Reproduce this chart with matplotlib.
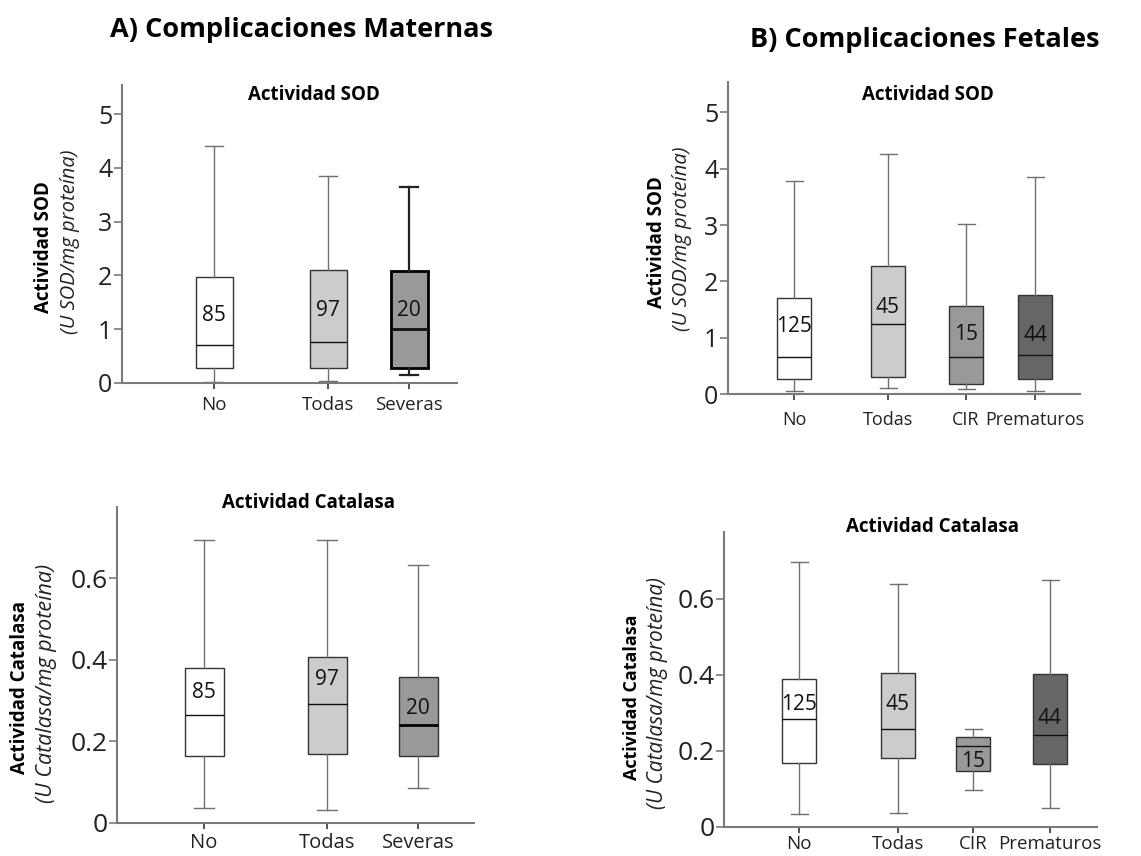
"""Box plots of SOD and catalase activity by maternal / fetal complications."""

import matplotlib

matplotlib.use("Agg")

import matplotlib.pyplot as plt

plt.rcParams["font.family"] = ["Open Sans", "DejaVu Sans"]

# ---- data ----
cats_mat = ["No", "Todas", "Severas"]
cats_fet = ["No", "Todas", "CIR", "Prematuros"]
n_mat = [85, 97, 20]
n_fet = [125, 45, 15, 44]

# SOD, maternal complications
sod_mat_lo = [0.02, 0.03, 0.15]
sod_mat_q1 = [0.28, 0.28, 0.27]
sod_mat_med = [0.71, 0.77, 1.00]
sod_mat_q3 = [1.97, 2.11, 2.08]
sod_mat_hi = [4.41, 3.85, 3.64]

# SOD, fetal complications
sod_fet_lo = [0.05, 0.10, 0.08, 0.05]
sod_fet_q1 = [0.27, 0.30, 0.18, 0.27]
sod_fet_med = [0.66, 1.24, 0.66, 0.69]
sod_fet_q3 = [1.70, 2.28, 1.57, 1.76]
sod_fet_hi = [3.79, 4.26, 3.01, 3.86]

# Catalase, maternal complications
cat_mat_lo = [0.037, 0.032, 0.086]
cat_mat_q1 = [0.165, 0.169, 0.165]
cat_mat_med = [0.265, 0.291, 0.240]
cat_mat_q3 = [0.379, 0.407, 0.357]
cat_mat_hi = [0.695, 0.695, 0.632]

# Catalase, fetal complications
cat_fet_lo = [0.033, 0.037, 0.098, 0.049]
cat_fet_q1 = [0.168, 0.182, 0.146, 0.167]
cat_fet_med = [0.283, 0.259, 0.212, 0.241]
cat_fet_q3 = [0.390, 0.406, 0.236, 0.402]
cat_fet_hi = [0.698, 0.638, 0.259, 0.650]

# ---- layout (pixels of the 1141x856 canvas) ----
W, H = 1141, 856
FILL_MAT = ["white", "#cccccc", "#999999"]
FILL_FET = ["white", "#cccccc", "#999999", "#666666"]
AX_COLOR = "#7a7a7a"
WHISK_COLOR = "#707070"


def fx(x):
    return x / W


def fy(y):
    return 1 - y / H


def make_ax(fig, left, right, top, bottom):
    return fig.add_axes([fx(left), fy(bottom), fx(right - left), (bottom - top) / H])


def draw_panel(ax, cats, lo, q1, med, q3, hi, ns, pos, width, fills, ymax,
               yticks, yticklabels, n_y, tick_fs, xtick_fs, xpad, thick=None,
               thick_median=None):
    stats = []
    for c, a, b, m, d, e in zip(cats, lo, q1, med, q3, hi):
        stats.append(dict(label=c, whislo=a, q1=b, med=m, q3=d, whishi=e, fliers=[]))
    art = ax.bxp(
        stats,
        positions=pos,
        widths=width,
        patch_artist=True,
        showfliers=False,
        boxprops=dict(edgecolor="#333333", linewidth=1.0),
        whiskerprops=dict(color=WHISK_COLOR, linewidth=1.0),
        capprops=dict(color=WHISK_COLOR, linewidth=1.0),
        medianprops=dict(color="#111111", linewidth=1.0),
    )
    for patch, fc in zip(art["boxes"], fills):
        patch.set_facecolor(fc)
    if thick is not None:
        i = thick
        art["boxes"][i].set_edgecolor("black")
        art["boxes"][i].set_linewidth(2.0)
        art["medians"][i].set_linewidth(2.0)
        for ln in art["whiskers"][2 * i:2 * i + 2] + art["caps"][2 * i:2 * i + 2]:
            ln.set_color("#222222")
            ln.set_linewidth(1.6)
    if thick_median is not None:
        art["medians"][thick_median].set_linewidth(2.0)
        art["medians"][thick_median].set_color("black")

    for p, n, y in zip(pos, ns, n_y):
        ax.text(p, y, str(n), ha="center", va="center", fontsize=15,
                color="#111111", zorder=5)

    ax.set_ylim(0, ymax)
    ax.set_yticks(yticks)
    ax.set_yticklabels(yticklabels, fontsize=tick_fs, color="#222222")
    ax.set_xticks(pos)
    ax.set_xticklabels(cats, fontsize=xtick_fs, color="#222222")
    ax.tick_params(axis="y", direction="out", length=6, width=1.2, color=AX_COLOR, pad=1)
    ax.tick_params(axis="x", direction="out", length=4, width=1.2, color="#333333", pad=xpad)
    for side in ("top", "right"):
        ax.spines[side].set_visible(False)
    for side in ("left", "bottom"):
        ax.spines[side].set_color(AX_COLOR)
        ax.spines[side].set_linewidth(1.5)
    ax.patch.set_alpha(0)


fig = plt.figure(figsize=(W / 100, H / 100), dpi=100)

# A) SOD
ax1 = make_ax(fig, 122, 457, 85, 383)
ax1.set_xlim(0, 335)
draw_panel(ax1, cats_mat, sod_mat_lo, sod_mat_q1, sod_mat_med, sod_mat_q3, sod_mat_hi,
           n_mat, [92, 206, 287], 37, FILL_MAT, 5.54,
           [0, 1, 2, 3, 4, 5], ["0", "1", "2", "3", "4", "5"],
           [1.26, 1.35, 1.35], 18, 13.5, 5, thick=2)

# B) SOD
ax2 = make_ax(fig, 728, 1080, 82, 394)
ax2.set_xlim(0, 352)
draw_panel(ax2, cats_fet, sod_fet_lo, sod_fet_q1, sod_fet_med, sod_fet_q3, sod_fet_hi,
           n_fet, [66, 160, 238, 307], 34, FILL_FET, 5.54,
           [0, 1, 2, 3, 4, 5], ["0", "1", "2", "3", "4", "5"],
           [1.20, 1.54, 1.05, 1.03], 18, 13, 8)

# A) Catalasa
ax3 = make_ax(fig, 117, 474, 507, 823)
ax3.set_xlim(0, 357)
draw_panel(ax3, cats_mat, cat_mat_lo, cat_mat_q1, cat_mat_med, cat_mat_q3, cat_mat_hi,
           n_mat, [87, 210, 301], 39, FILL_MAT, 0.775,
           [0, 0.2, 0.4, 0.6], ["0", "0.2", "0.4", "0.6"],
           [0.319, 0.352, 0.28], 19, 14.5, 3, thick_median=2)

# B) Catalasa
ax4 = make_ax(fig, 724, 1097, 532, 827)
ax4.set_xlim(0, 373)
draw_panel(ax4, cats_fet, cat_fet_lo, cat_fet_q1, cat_fet_med, cat_fet_q3, cat_fet_hi,
           n_fet, [75, 174, 249, 326], 34, FILL_FET, 0.776,
           [0, 0.2, 0.4, 0.6], ["0", "0.2", "0.4", "0.6"],
           [0.321, 0.321, 0.171, 0.286], 19, 13.5, 2)

# ---- titles ----
fig.text(fx(302), fy(30), "A) Complicaciones Maternas", ha="center", va="center",
         fontsize=19.5, fontweight="bold")
fig.text(fx(925), fy(40), "B) Complicaciones Fetales", ha="center", va="center",
         fontsize=19.5, fontweight="bold")

panel_titles = [
    (314, 95, "Actividad SOD"),
    (928, 95, "Actividad SOD"),
    (309, 503, "Actividad Catalasa"),
    (933, 527, "Actividad Catalasa"),
]
for x, y, t in panel_titles:
    fig.text(fx(x), fy(y), t, ha="center", va="center", fontsize=13.5,
             fontweight="bold")

# ---- y-axis labels (bold line + italic units line) ----
ylabels = [
    (44, 247, 70, 242, "Actividad SOD", "(U SOD/mg proteína)", 13.5, 14.5),
    (657, 242, 682, 239, "Actividad SOD", "(U SOD/mg proteína)", 13.5, 14.5),
    (20, 688, 47, 683, "Actividad Catalasa", "(U Catalasa/mg proteína)", 13.5, 15.5),
    (632, 697, 658, 693, "Actividad Catalasa", "(U Catalasa/mg proteína)", 13, 15),
]
for bx, by, ix, iy, bold, ital, bfs, ifs in ylabels:
    fig.text(fx(bx), fy(by), bold, rotation=90, ha="center", va="center",
             fontsize=bfs, fontweight="bold")
    fig.text(fx(ix), fy(iy), ital, rotation=90, ha="center", va="center",
             fontsize=ifs, fontstyle="italic", color="#222222")

fig.savefig("out.png", dpi=100, facecolor="white")
